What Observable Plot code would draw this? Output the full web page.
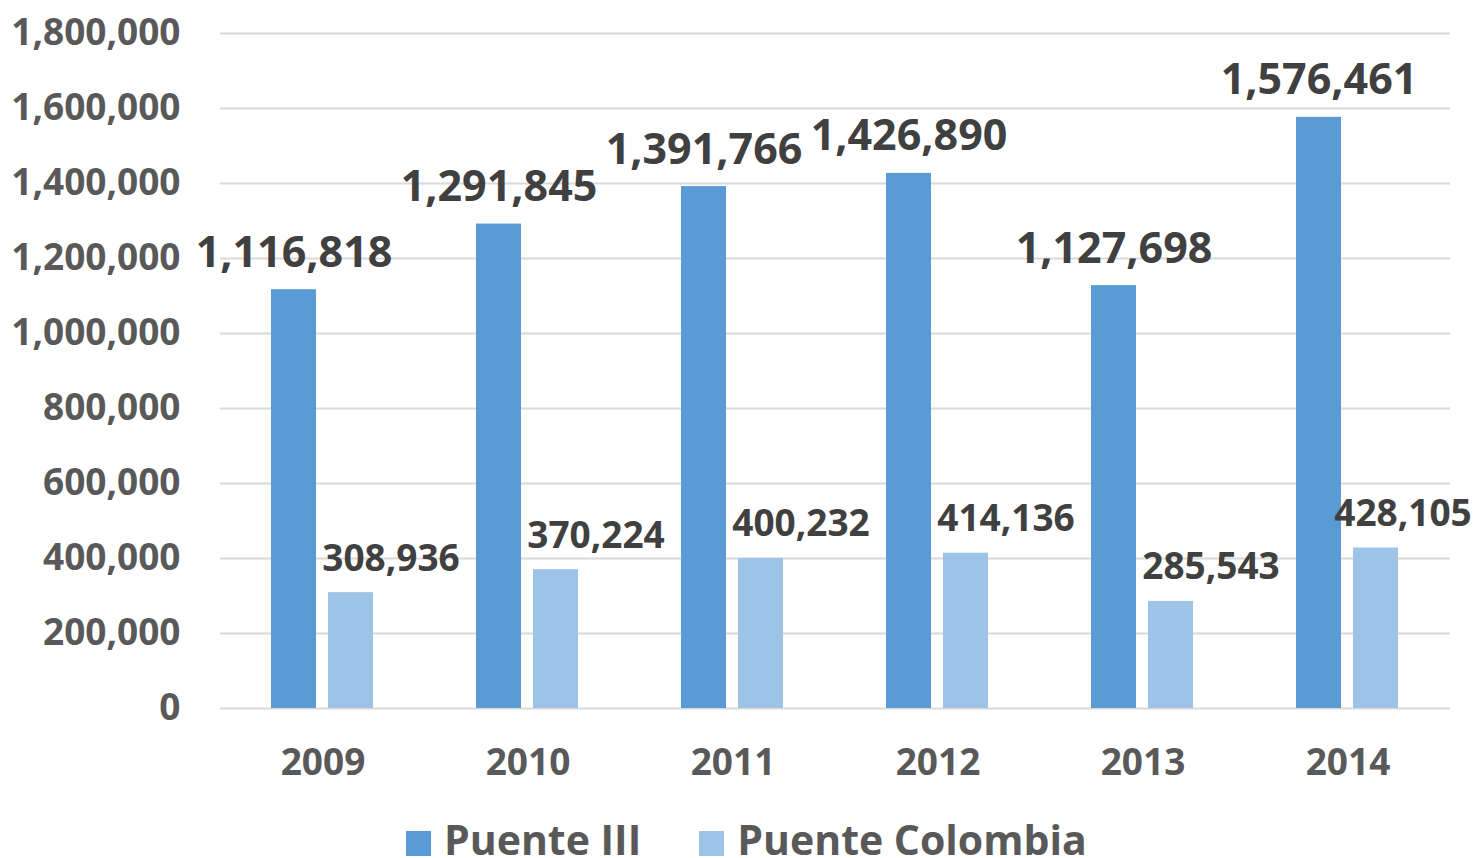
<!DOCTYPE html>
<html>
<head>
<meta charset="utf-8">
<script src="https://cdn.jsdelivr.net/npm/d3@7"></script>
<script src="https://cdn.jsdelivr.net/npm/@observablehq/plot@0.6"></script>
<style>
  body { margin: 0; background: #fff; width: 1477px; height: 858px; overflow: hidden; position: relative; font-family: "Open Sans", sans-serif; }
  #legend { position: absolute; left: 406px; top: 811px; display: flex; align-items: center; font-weight: bold; font-size: 41px; color: #595959; white-space: nowrap; }
  .item { display: flex; align-items: center; margin-right: 58px; }
  .sw { width: 25px; height: 25px; margin-right: 13px; margin-top: 8px; }
</style>
</head>
<body>
<div id="chart"></div>
<div id="legend"></div>
<script>
const years = ["2009", "2010", "2011", "2012", "2013", "2014"];
const series = ["Puente III", "Puente Colombia"];
const puenteIII = [1116818, 1291845, 1391766, 1426890, 1127698, 1576461];
const puenteColombia = [308936, 370224, 400232, 414136, 285543, 428105];
const colors = ["#5b9bd5", "#9dc3e6"];
const yTicks = [0, 200000, 400000, 600000, 800000, 1000000, 1200000, 1400000, 1600000, 1800000];

const data = [];
years.forEach((y, i) => {
  data.push({year: y, series: series[0], value: puenteIII[i]});
  data.push({year: y, series: series[1], value: puenteColombia[i]});
});
const fmt = d3.format(",");
const lastYear = years[years.length - 1];
const colombia = data.filter(d => d.series === series[1]);

const chart = Plot.plot({
  width: 1477,
  height: 800,
  marginLeft: 220,
  marginRight: 27,
  marginTop: 33,
  marginBottom: 92,
  style: {fontFamily: "'Open Sans', sans-serif", fontSize: "37px", fontWeight: "bold", color: "#595959", background: "white"},
  fx: {domain: years, padding: 0, label: null, tickSize: 0, tickPadding: 40, axis: "bottom"},
  x: {domain: series, paddingInner: 0.207, paddingOuter: 0.871, axis: null},
  y: {domain: [0, 1800000], ticks: yTicks, tickFormat: fmt, tickSize: 0, tickPadding: 40, label: null},
  color: {domain: series, range: colors},
  marks: [
    Plot.ruleY(yTicks, {stroke: "#d9d9d9", strokeWidth: 2}),
    Plot.barY(data, {fx: "year", x: "series", y: "value", fill: "series"}),
    Plot.text(data.filter(d => d.series === series[0]), {fx: "year", x: "series", y: "value", text: d => fmt(d.value), lineAnchor: "bottom", dy: -23, fontSize: 43, fill: "#404040", fontWeight: "bold"}),
    Plot.text(colombia.filter(d => d.year !== lastYear), {fx: "year", x: "series", y: "value", text: d => fmt(d.value), lineAnchor: "bottom", dy: -22, dx: 40, fontSize: 37, fill: "#404040", fontWeight: "bold"}),
    Plot.text(colombia.filter(d => d.year === lastYear), {fx: "year", x: "series", y: "value", text: d => fmt(d.value), lineAnchor: "bottom", dy: -22, dx: 27, fontSize: 37, fill: "#404040", fontWeight: "bold"})
  ]
});
document.getElementById("chart").appendChild(chart);

const legend = document.getElementById("legend");
series.forEach((s, i) => {
  const item = document.createElement("div");
  item.className = "item";
  const sw = document.createElement("span");
  sw.className = "sw";
  sw.style.background = colors[i];
  const label = document.createElement("span");
  label.textContent = s;
  item.appendChild(sw);
  item.appendChild(label);
  legend.appendChild(item);
});
</script>
</body>
</html>
